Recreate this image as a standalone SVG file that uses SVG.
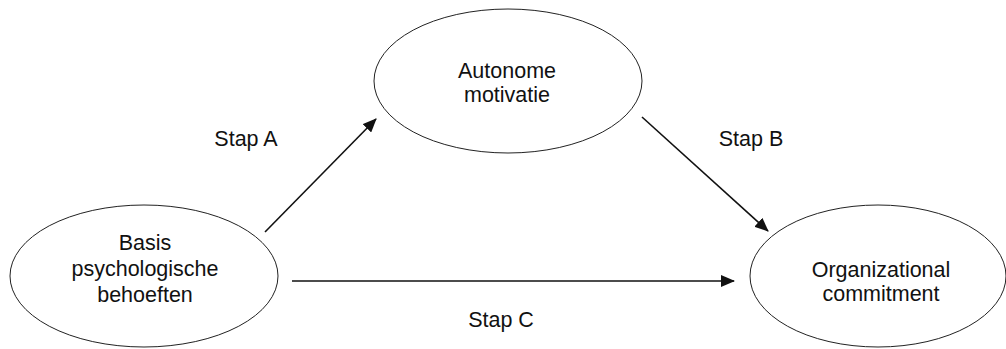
<svg xmlns="http://www.w3.org/2000/svg" width="1006" height="349" viewBox="0 0 1006 349">
<style>
.node{fill:#fff;stroke:#222;stroke-width:1}
.t{font-family:"Liberation Sans",Arial,sans-serif;font-size:21.5px;fill:#111;text-anchor:middle}
.c{stroke:#111;stroke-width:1.6;fill:none}
</style>
<defs>
<marker id="ah" markerWidth="14" markerHeight="12" refX="13" refY="6" orient="auto" markerUnits="userSpaceOnUse">
<path d="M0,0 L14,6 L0,12 Z" fill="#111"/>
</marker>
</defs>
<rect width="1006" height="349" fill="#fff"/>
<g id="connectors">
<line class="c" x1="265" y1="232" x2="376" y2="119" marker-end="url(#ah)"/>
<line class="c" x1="642" y1="117" x2="768" y2="231" marker-end="url(#ah)"/>
<line class="c" x1="292" y1="281" x2="734" y2="281" marker-end="url(#ah)"/>
</g>
<g id="node-basis">
<ellipse class="node" cx="144" cy="276" rx="134" ry="71"/>
<text class="t" x="145" y="250">Basis</text>
<text class="t" x="145" y="276">psychologische</text>
<text class="t" x="145" y="302">behoeften</text>
</g>
<g id="node-autonome">
<ellipse class="node" cx="508" cy="81" rx="134" ry="72"/>
<text class="t" x="507" y="78">Autonome</text>
<text class="t" x="507" y="102">motivatie</text>
</g>
<g id="node-commitment">
<ellipse class="node" cx="878" cy="276" rx="128" ry="71"/>
<text class="t" x="881" y="277">Organizational</text>
<text class="t" x="881" y="301">commitment</text>
</g>
<g id="labels">
<text class="t" x="246" y="146">Stap A</text>
<text class="t" x="751" y="146">Stap B</text>
<text class="t" x="501" y="327">Stap C</text>
</g>
</svg>
